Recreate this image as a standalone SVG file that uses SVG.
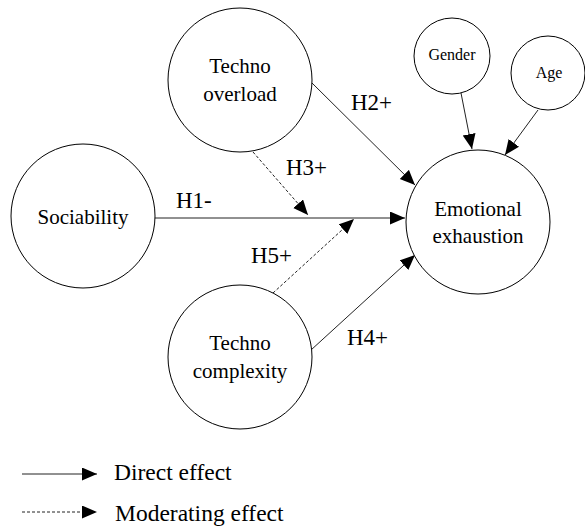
<svg xmlns="http://www.w3.org/2000/svg" width="585" height="531" viewBox="0 0 585 531">
<style>
.node{fill:#fff;stroke:#000;stroke-width:1}
text{font-family:'Liberation Serif','Times New Roman','DejaVu Serif',serif;fill:#000}
.t{text-anchor:middle}
.big{font-size:21px}
.small{font-size:16px}
.lbl{font-size:23px}
.leg{font-size:23.5px}
.edge{stroke:#222;stroke-width:1;fill:none;marker-end:url(#ah)}
.dash{stroke-dasharray:3 2}
</style>
<defs>
<marker id="ah" markerUnits="userSpaceOnUse" markerWidth="16" markerHeight="14" refX="15" refY="6.5" orient="auto">
<path d="M0,0 L15,6.5 L0,13 z" fill="#000"/>
</marker>
</defs>
<rect width="585" height="531" fill="#fff"/>
<g id="connectors">
<line class="edge" x1="155" y1="218" x2="405" y2="218"/>
<line class="edge" x1="312" y1="83" x2="415" y2="185"/>
<line class="edge dash" x1="253" y1="152" x2="308" y2="215"/>
<line class="edge" x1="311" y1="350" x2="415" y2="255"/>
<line class="edge dash" x1="273" y1="293" x2="354" y2="219"/>
<line class="edge" x1="461" y1="93" x2="472" y2="149"/>
<line class="edge" x1="538" y1="110" x2="505" y2="155"/>
<text class="lbl" x="176" y="208">H1-</text>
<text class="lbl" x="351" y="110">H2+</text>
<text class="lbl" x="286" y="175">H3+</text>
<text class="lbl" x="347" y="345">H4+</text>
<text class="lbl" x="251" y="263">H5+</text>
</g>
<g id="techno-overload">
<circle class="node" cx="240" cy="80" r="72"/>
<text class="t big" x="240" y="73">Techno</text>
<text class="t big" x="240" y="101">overload</text>
</g>
<g id="sociability">
<circle class="node" cx="83" cy="216" r="72"/>
<text class="t big" x="83" y="224">Sociability</text>
</g>
<g id="techno-complexity">
<circle class="node" cx="240" cy="357" r="72"/>
<text class="t big" x="240" y="350">Techno</text>
<text class="t big" x="240" y="378">complexity</text>
</g>
<g id="emotional-exhaustion">
<circle class="node" cx="478" cy="222" r="72"/>
<text class="t big" x="478" y="216">Emotional</text>
<text class="t big" x="478" y="243">exhaustion</text>
</g>
<g id="gender">
<circle class="node" cx="452" cy="56" r="38"/>
<text class="t small" x="452" y="60">Gender</text>
</g>
<g id="age">
<circle class="node" cx="548" cy="73" r="37"/>
<text class="t small" x="549" y="78">Age</text>
</g>
<g id="legend">
<line class="edge" x1="22" y1="474" x2="97" y2="474"/>
<text class="leg" x="114" y="480">Direct effect</text>
<line class="edge dash" x1="22" y1="512" x2="97" y2="512"/>
<text class="leg" x="115" y="521">Moderating effect</text>
</g>
</svg>
